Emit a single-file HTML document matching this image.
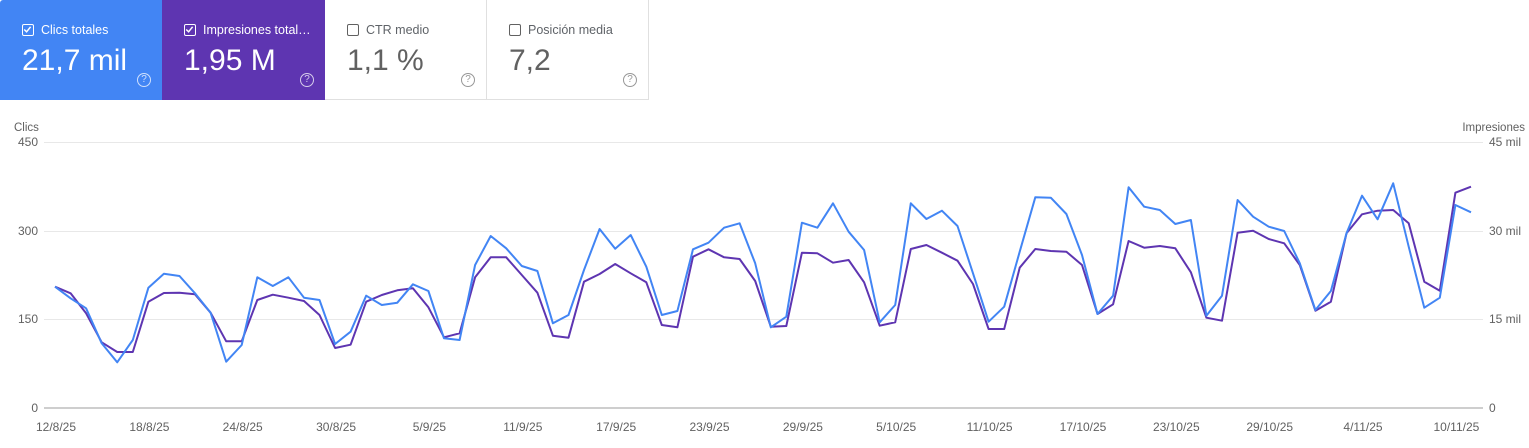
<!DOCTYPE html>
<html><head><meta charset="utf-8"><style>
body{margin:0;width:1529px;height:448px;background:#fff;font-family:"Liberation Sans",Arial,sans-serif;overflow:hidden;position:relative}
.card{position:absolute;top:0;height:100px;box-sizing:border-box}
.lab{position:absolute;left:22px;top:23px;font-size:12.5px;display:flex;align-items:center}
.cb{width:12px;height:12px;box-sizing:border-box;border:1.5px solid currentColor;border-radius:2px;margin-right:7px;position:relative}
.val{position:absolute;left:22px;top:44px;font-size:30px}
.help{position:absolute;right:11px;top:73px;width:12px;height:12px;border:1.3px solid currentColor;border-radius:50%;font-size:10px;line-height:12px;text-align:center;opacity:.75}
</style></head><body>
<div class="card" style="left:0;width:162px;background:#4285f4;color:#fff;border-top-left-radius:3px">
<div class="lab"><span class="cb"><svg width="9" height="9" style="position:absolute;left:0;top:0"><path d="M1.2 4.5 L3.6 6.8 L7.6 1.8" stroke="#fff" stroke-width="1.5" fill="none"/></svg></span>Clics totales</div>
<div class="val">21,7 mil</div><div class="help">?</div></div>
<div class="card" style="left:162px;width:163px;background:#5e35b1;color:#fff">
<div class="lab"><span class="cb"><svg width="9" height="9" style="position:absolute;left:0;top:0"><path d="M1.2 4.5 L3.6 6.8 L7.6 1.8" stroke="#fff" stroke-width="1.5" fill="none"/></svg></span>Impresiones total…</div>
<div class="val">1,95 M</div><div class="help">?</div></div>
<div class="card" style="left:325px;width:162px;border-right:1px solid #e0e0e0;border-bottom:1px solid #e0e0e0;color:#5f6368">
<div class="lab"><span class="cb" style="border-color:#616161"></span>CTR medio</div>
<div class="val" style="color:#616161">1,1 %</div><div class="help" style="color:#757575">?</div></div>
<div class="card" style="left:487px;width:162px;border-right:1px solid #e0e0e0;border-bottom:1px solid #e0e0e0;color:#5f6368">
<div class="lab"><span class="cb" style="border-color:#616161"></span>Posición media</div>
<div class="val" style="color:#616161">7,2</div><div class="help" style="color:#757575">?</div></div>
<svg id="ch" width="1529" height="448" style="position:absolute;left:0;top:0" font-family="Liberation Sans, Arial, sans-serif" font-size="11.5" fill="#616161">
<text x="14" y="131">Clics</text>
<text x="1525" y="131" text-anchor="end">Impresiones</text>
<g stroke="#e8e8e8" stroke-width="1"><line x1="44" x2="1483" y1="142.5" y2="142.5"/><line x1="44" x2="1483" y1="231.5" y2="231.5"/><line x1="44" x2="1483" y1="319.5" y2="319.5"/></g>
<line x1="44" x2="1483" y1="408" y2="408" stroke="#9e9e9e" stroke-width="1"/>
<g text-anchor="end" font-size="12"><text x="38" y="146">450</text><text x="38" y="235">300</text><text x="38" y="323">150</text><text x="38" y="412">0</text></g>
<g font-size="12"><text x="1489" y="146">45 mil</text><text x="1489" y="235">30 mil</text><text x="1489" y="323">15 mil</text><text x="1489" y="412">0</text></g>
<g id="xl" text-anchor="middle" font-size="12"></g>
<polyline id="pu" fill="none" stroke="#5e35b1" stroke-width="2" stroke-linejoin="round"/>
<polyline id="bl" fill="none" stroke="#4285f4" stroke-width="2" stroke-linejoin="round"/>
</svg>
<script>
var B=[286.7,298.3,308.3,343.3,362.3,340,287.7,273.7,276,293.3,312.7,361.7,345,277.3,286,277.3,297.7,300,344,331.7,295.7,305,302.7,284.3,291,
338.3,340,265,236,248.3,266,271,323.3,315,270,229,248.7,235,266.7,315,311,249.3,242.7,227.7,223.3,263.3,327.3,316.7,222.7,227.7,
203.3,231.7,250,322.3,305,203.3,219,210.7,226,273.3,321.7,306.7,251.7,197.3,197.7,214,255,314,295.7,187.3,206.7,210,224,
220,315.7,295.7,200,216.7,226.7,231,263.3,310,291,233.3,195.7,219.3,183.3,246.7,307.7,297.7,205,212.3];
var P=[286.7,293.3,313.3,342.3,352,352,301.7,293,292.7,294.3,312.7,341.3,341.3,300,294.7,297.7,301,315,348,344.7,301.7,295,290.3,288.3,307.3,
337.3,333.3,277.3,257.3,257.3,275,292.7,335.7,337.7,281.7,274,264,273.3,282.3,325,327.3,256.7,249.3,257.3,259,281,326.7,326,252.7,253.3,
262.7,260,282.3,325.7,322.3,249,245,252.7,260.7,284,329,329,267.7,249,251,251.7,265,314,304.3,241,247.7,246,248.3,
272.3,317.7,320.7,232.7,230.7,239,243.3,265,310.7,301.7,233.3,214.3,210.7,210,223.3,281.7,290.7,192.7,186.7];
function pts(a){return a.map(function(y,i){return (55+i*15.56).toFixed(1)+","+y}).join(" ")}
document.getElementById("bl").setAttribute("points",pts(B));
document.getElementById("pu").setAttribute("points",pts(P));
var L=["12/8/25","18/8/25","24/8/25","30/8/25","5/9/25","11/9/25","17/9/25","23/9/25","29/9/25","5/10/25","11/10/25","17/10/25","23/10/25","29/10/25","4/11/25","10/11/25"];
var g=document.getElementById("xl"),h="";
L.forEach(function(t,k){h+='<text x="'+(55+k*6*15.56+1).toFixed(1)+'" y="431">'+t+'</text>'});
g.innerHTML=h;
</script>
</body></html>
